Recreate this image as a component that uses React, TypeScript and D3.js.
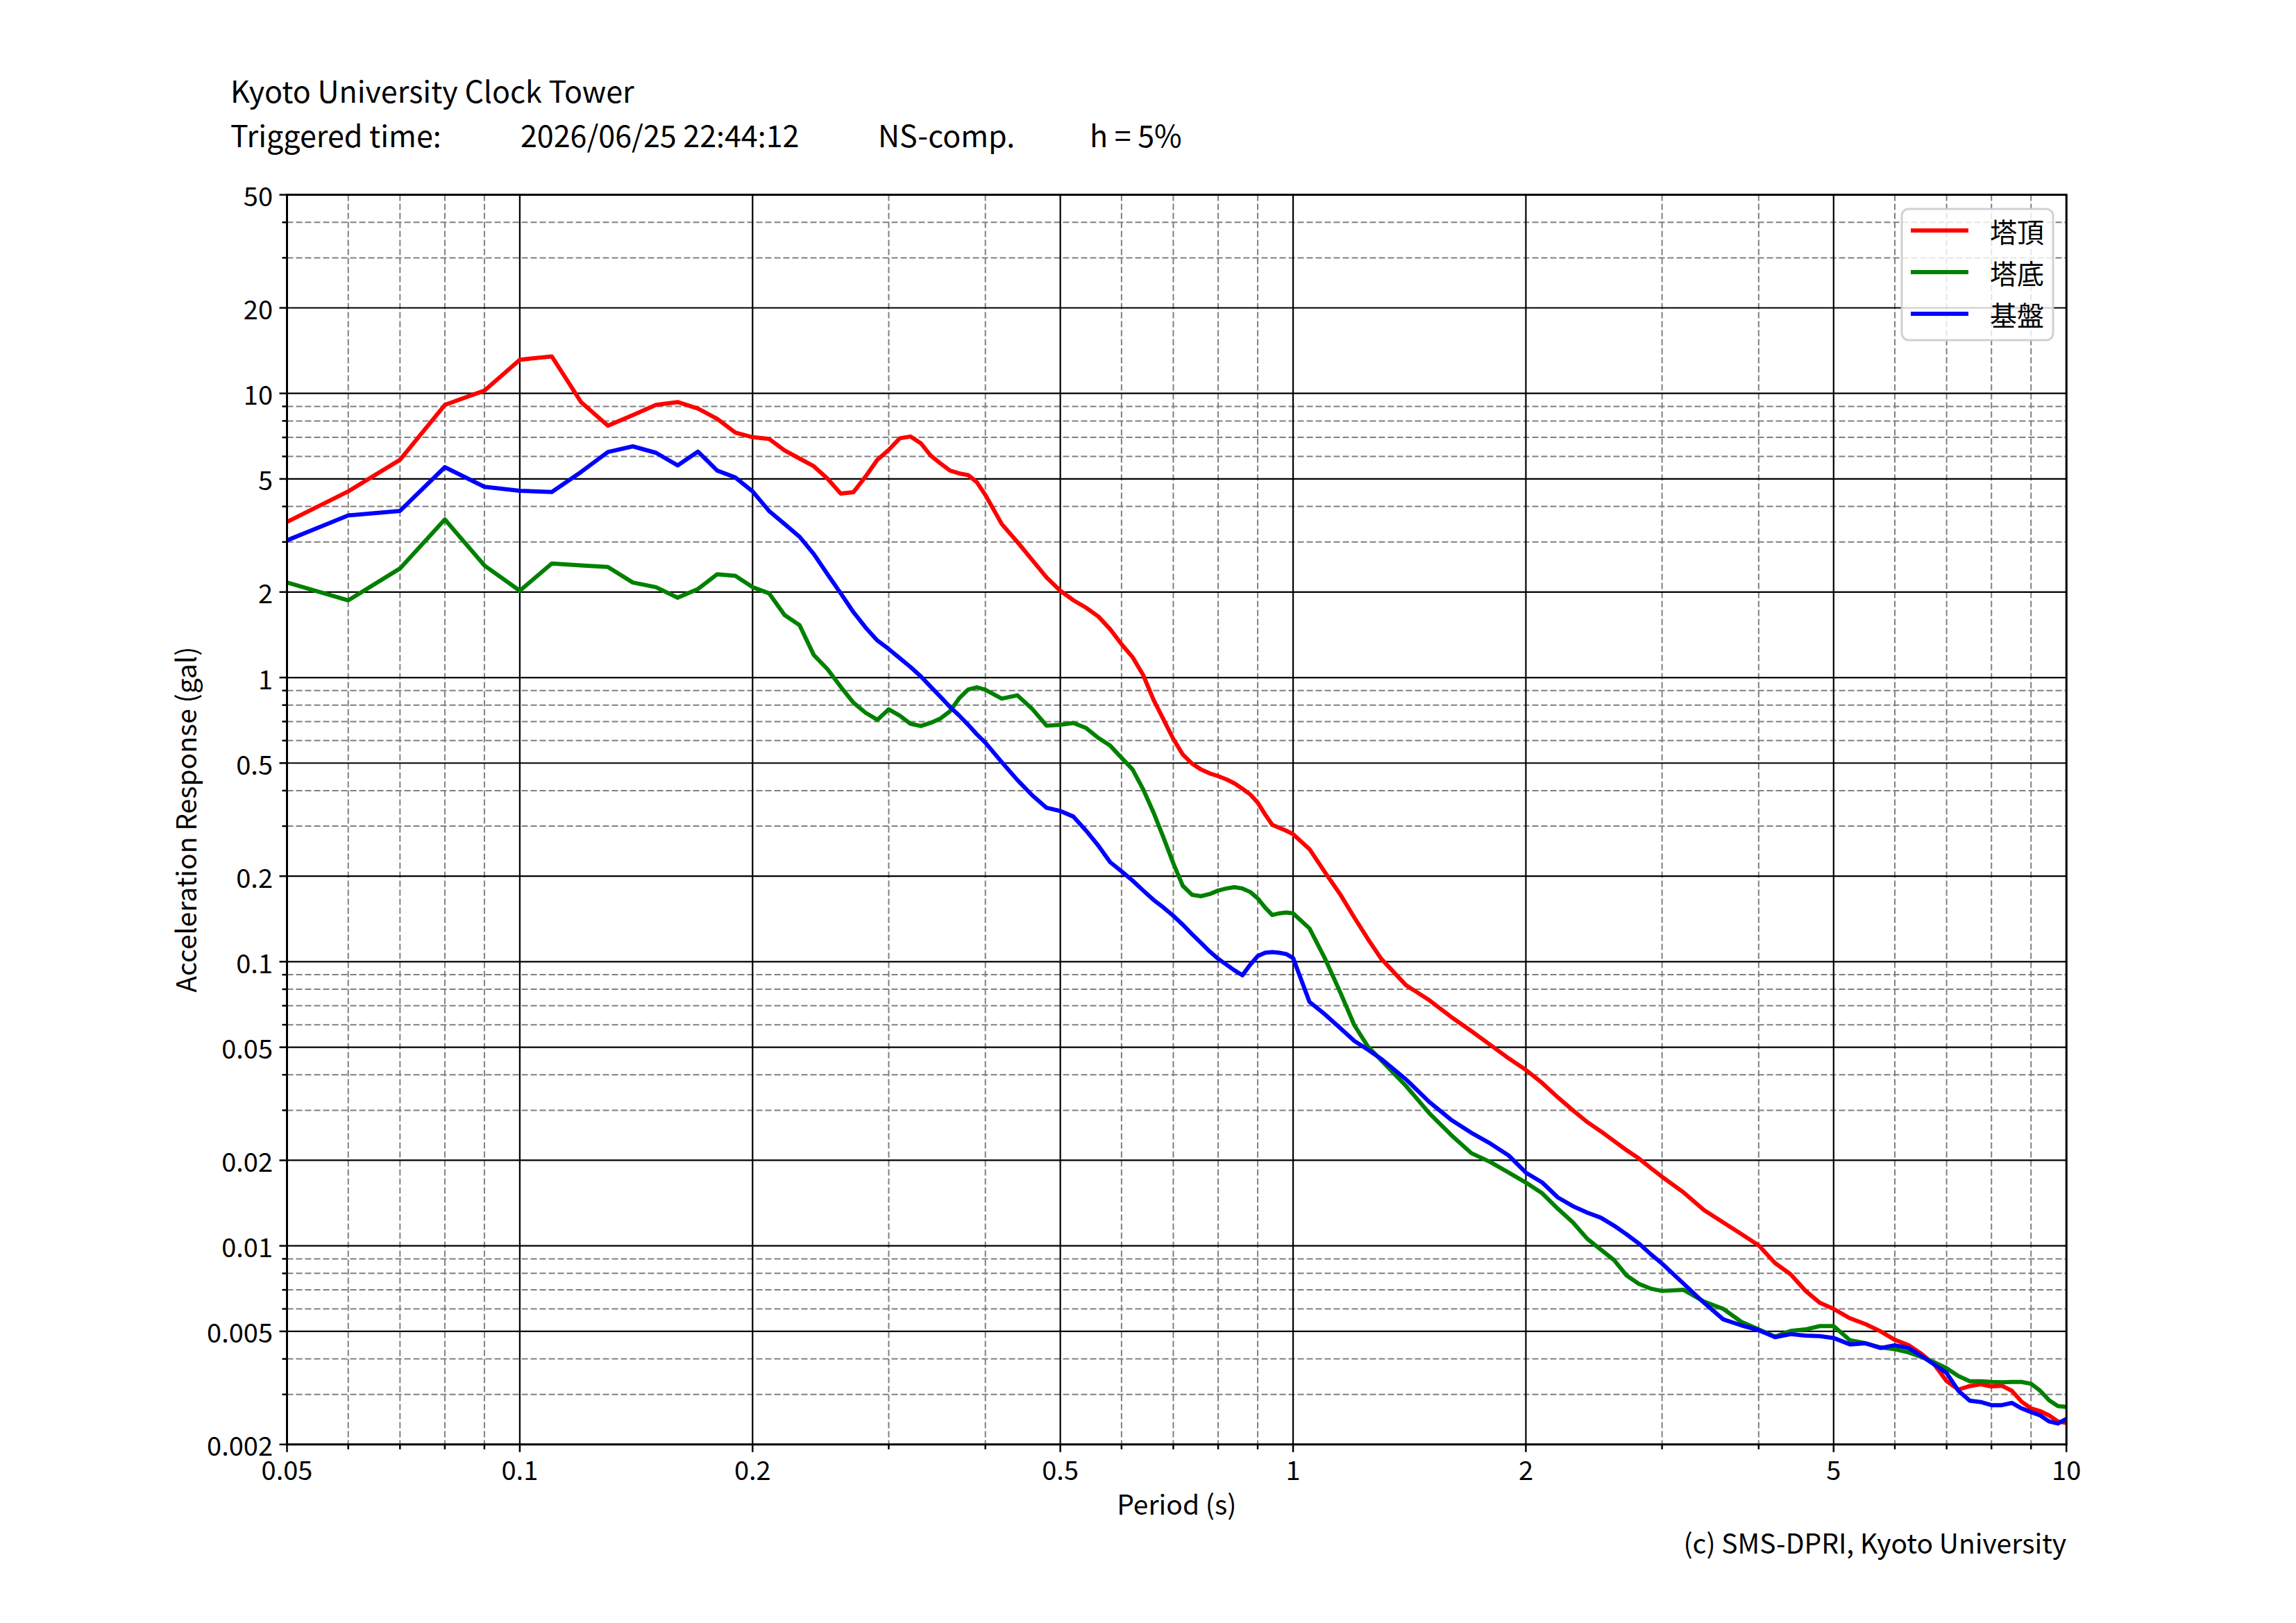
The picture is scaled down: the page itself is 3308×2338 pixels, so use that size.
import React from "react";
import * as d3 from "d3";

const periods = [
  0.05, 0.06, 0.07, 0.08, 0.09, 0.1, 0.11, 0.12, 0.13, 0.14, 0.15, 0.16, 0.17, 0.18, 0.19, 0.2,
  0.21, 0.22, 0.23, 0.24, 0.25, 0.26, 0.27, 0.28, 0.29, 0.3, 0.31, 0.32, 0.33, 0.34, 0.35, 0.36,
  0.37, 0.38, 0.39, 0.4,
  0.42, 0.44, 0.46, 0.48, 0.5, 0.52, 0.54, 0.56, 0.58, 0.6, 0.62, 0.64, 0.66, 0.68, 0.7, 0.72,
  0.74, 0.76, 0.78, 0.8, 0.82, 0.84, 0.86, 0.88, 0.9, 0.92, 0.94, 0.96, 0.98, 1.0,
  1.05, 1.1, 1.15, 1.2, 1.25,
  1.3, 1.4, 1.5, 1.6, 1.7, 1.8, 1.9, 2.0, 2.1, 2.2, 2.3, 2.4, 2.5, 2.6, 2.7, 2.8, 2.9, 3.0,
  3.2, 3.4, 3.6, 3.8, 4.0, 4.2, 4.4, 4.6, 4.8, 5.0,
  5.25, 5.5, 5.75, 6.0, 6.25, 6.5, 6.75, 7.0, 7.25, 7.5, 7.75, 8.0, 8.25, 8.5, 8.75, 9.0, 9.25,
  9.5, 9.75, 10.0,
];

// 塔頂 (tower top)
const towerTop = [
  3.53, 4.52, 5.84, 9.11, 10.23, 13.14, 13.49, 9.32, 7.7, 8.39, 9.11, 9.32, 8.84, 8.14, 7.28, 7.01,
  6.92, 6.3, 5.9, 5.54, 5.01, 4.44, 4.49, 5.1, 5.84, 6.33, 6.95, 7.05, 6.68, 6.04, 5.67, 5.35,
  5.23, 5.16, 4.87, 4.39,
  3.47, 3.0, 2.59, 2.25, 2.02, 1.87, 1.76, 1.64, 1.48, 1.31, 1.18, 1.02, 0.835, 0.711, 0.608, 0.536,
  0.498, 0.475, 0.46, 0.45, 0.438, 0.424, 0.406, 0.388, 0.363, 0.33, 0.303, 0.296, 0.289, 0.281,
  0.249, 0.206, 0.173, 0.143, 0.12,
  0.1024, 0.0826, 0.0732, 0.064, 0.057, 0.0509, 0.0457, 0.0416, 0.0374, 0.0333, 0.03, 0.0273,
  0.0253, 0.0234, 0.0217, 0.0203, 0.0188, 0.0175,
  0.0154, 0.01335, 0.01208, 0.011, 0.01004, 0.0087, 0.00794, 0.00694, 0.0063, 0.006,
  0.00556, 0.0053, 0.005, 0.00467, 0.00447, 0.00416, 0.00382, 0.00334, 0.00312, 0.00321, 0.00326,
  0.0032, 0.00322, 0.00309, 0.00283, 0.00268, 0.00262, 0.00253, 0.00241, 0.00238,
];

// 塔底 (tower base)
const towerBase = [
  2.16, 1.87, 2.42, 3.6, 2.48, 2.02, 2.52, 2.48, 2.45, 2.16, 2.08, 1.91, 2.05, 2.31, 2.28, 2.08,
  1.98, 1.66, 1.53, 1.2, 1.07, 0.928, 0.816, 0.752, 0.71, 0.773, 0.735, 0.688, 0.675, 0.693, 0.718,
  0.761, 0.845, 0.907, 0.924, 0.906,
  0.843, 0.866, 0.775, 0.677, 0.682, 0.692, 0.664, 0.613, 0.576, 0.522, 0.475, 0.404, 0.335, 0.273,
  0.222, 0.185, 0.172, 0.17, 0.173, 0.178, 0.181, 0.183, 0.181, 0.176, 0.167, 0.155, 0.146, 0.148,
  0.149, 0.148,
  0.131, 0.1024, 0.0783, 0.0598, 0.0502,
  0.045, 0.0365, 0.0293, 0.0246, 0.0212, 0.0197, 0.0181, 0.0167, 0.0153, 0.0135, 0.0121, 0.0106,
  0.0097, 0.00891, 0.00786, 0.00735, 0.00707, 0.00694,
  0.007, 0.00636, 0.006, 0.0054, 0.00508, 0.00479, 0.00502, 0.00508, 0.00522, 0.00522,
  0.00465, 0.00454, 0.00439, 0.00433, 0.00422, 0.00406, 0.00389, 0.00371, 0.00348, 0.00334, 0.00334,
  0.00332, 0.00331, 0.00332, 0.00332, 0.00327, 0.00309, 0.00286, 0.00273, 0.00271,
];

// 基盤 (ground)
const ground = [
  3.04, 3.72, 3.86, 5.5, 4.69, 4.54, 4.5, 5.29, 6.22, 6.51, 6.18, 5.58, 6.24, 5.35, 5.06, 4.52,
  3.86, 3.47, 3.13, 2.72, 2.31, 1.98, 1.7, 1.5, 1.35, 1.26, 1.17, 1.09, 1.01, 0.928, 0.855, 0.788,
  0.735, 0.682, 0.631, 0.59,
  0.504, 0.436, 0.385, 0.348, 0.339, 0.324, 0.289, 0.256, 0.224, 0.208, 0.193, 0.178, 0.165, 0.155,
  0.145, 0.135, 0.125, 0.1166, 0.1087, 0.1024, 0.0976, 0.0932, 0.0896, 0.0976, 0.1047, 0.1075,
  0.1081, 0.1075, 0.1064, 0.103,
  0.0722, 0.0652, 0.0585, 0.0526, 0.049,
  0.0455, 0.0385, 0.0321, 0.0278, 0.025, 0.0229, 0.0208, 0.0181, 0.0167, 0.0148, 0.0138, 0.0131,
  0.01256, 0.01178, 0.01097, 0.01019, 0.00935, 0.00866,
  0.00735, 0.0063, 0.00551, 0.00525, 0.00505, 0.00477, 0.00489, 0.00483, 0.00481, 0.00474,
  0.0045, 0.00454, 0.00437, 0.00447, 0.00437, 0.00409, 0.00382, 0.00357, 0.00309, 0.00285, 0.00282,
  0.00275, 0.00275, 0.0028, 0.00268, 0.0026, 0.00253, 0.00241, 0.00237, 0.00246,
];

const seriesNames = ["塔頂", "塔底", "基盤"];
const seriesColors = ["#ff0000", "#008000", "#0000ff"];

const xTicks = [0.05, 0.1, 0.2, 0.5, 1, 2, 5, 10];
const xTickLabels = ["0.05", "0.1", "0.2", "0.5", "1", "2", "5", "10"];
const yTicks = [50, 20, 10, 5, 2, 1, 0.5, 0.2, 0.1, 0.05, 0.02, 0.01, 0.005, 0.002];
const yTickLabels = ["50", "20", "10", "5", "2", "1", "0.5", "0.2", "0.1", "0.05", "0.02", "0.01", "0.005", "0.002"];

const titleLine1 = "Kyoto University Clock Tower";
const titleParts = ["Triggered time:", "2026/06/25 22:44:12", "NS-comp.", "h = 5%"];
const xLabel = "Period (s)";
const yLabel = "Acceleration Response (gal)";
const credit = "(c) SMS-DPRI, Kyoto University";

const W = 3308;
const H = 2338;
const L = 413.5;
const R = 2977.2;
const T = 280.6;
const B = 2080.8;
const FONT = "'Noto Sans CJK JP', 'Noto Sans', sans-serif";

function minorValues(lo: number, hi: number, majors: number[]) {
  const out: number[] = [];
  for (let e = -4; e <= 2; e++) {
    for (let m = 1; m <= 9; m++) {
      const v = +(m * Math.pow(10, e)).toPrecision(6);
      if (v > lo * 1.0001 && v < hi * 0.9999 && !majors.some((t) => Math.abs(t - v) / v < 1e-6)) out.push(v);
    }
  }
  return out;
}

export default function App() {
  const x = d3.scaleLog().domain([0.05, 10]).range([L, R]);
  const y = d3.scaleLog().domain([0.002, 50]).range([B, T]);
  const xMinor = minorValues(0.05, 10, xTicks);
  const yMinor = minorValues(0.002, 50, yTicks);
  const series = [towerTop, towerBase, ground];
  const line = d3
    .line<number>()
    .x((_, i) => x(periods[i]))
    .y((d) => y(d));

  const legX = 2740;
  const legY = 301;
  const legW = 218;
  const legH = 189;

  const titleX = [332, 750, 1265, 1570];

  return (
    <svg
      width={W}
      height={H}
      style={{ position: "absolute", left: 0, top: 0, background: "#fff" }}
      fontFamily={FONT}
    >
      <rect x={0} y={0} width={W} height={H} fill="#fff" />
      <defs>
        <clipPath id="plotclip">
          <rect x={L} y={T} width={R - L} height={B - T} />
        </clipPath>
      </defs>

      {/* minor grid */}
      <g stroke="#808080" strokeWidth={2} strokeDasharray="9 4" fill="none">
        {xMinor.map((v) => (
          <line key={"xm" + v} x1={x(v)} x2={x(v)} y1={T} y2={B} />
        ))}
        {yMinor.map((v) => (
          <line key={"ym" + v} x1={L} x2={R} y1={y(v)} y2={y(v)} />
        ))}
      </g>
      {/* major grid */}
      <g stroke="#000" strokeWidth={2.2} fill="none">
        {xTicks.map((v) => (
          <line key={"xg" + v} x1={x(v)} x2={x(v)} y1={T} y2={B} />
        ))}
        {yTicks.map((v) => (
          <line key={"yg" + v} x1={L} x2={R} y1={y(v)} y2={y(v)} />
        ))}
      </g>

      {/* data lines */}
      <g clipPath="url(#plotclip)" fill="none" strokeWidth={6} strokeLinejoin="round">
        {series.map((s, i) => (
          <path key={seriesNames[i]} d={line(s) || ""} stroke={seriesColors[i]} />
        ))}
      </g>

      {/* spines */}
      <rect x={L} y={T} width={R - L} height={B - T} fill="none" stroke="#000" strokeWidth={3} />

      {/* ticks */}
      <g stroke="#000" strokeWidth={2.5}>
        {xTicks.map((v) => (
          <line key={"xt" + v} x1={x(v)} x2={x(v)} y1={B} y2={B + 11} />
        ))}
        {xMinor.map((v) => (
          <line key={"xmt" + v} x1={x(v)} x2={x(v)} y1={B} y2={B + 7} />
        ))}
        {yTicks.map((v) => (
          <line key={"yt" + v} x1={L - 11} x2={L} y1={y(v)} y2={y(v)} />
        ))}
        {yMinor.map((v) => (
          <line key={"ymt" + v} x1={L - 7} x2={L} y1={y(v)} y2={y(v)} />
        ))}
      </g>

      {/* tick labels */}
      <g fontSize={38} fill="#000">
        {xTicks.map((v, i) => (
          <text key={"xl" + v} x={x(v)} y={2132} textAnchor="middle">
            {xTickLabels[i]}
          </text>
        ))}
        {yTicks.map((v, i) => (
          <text key={"yl" + v} x={393} y={y(v)} textAnchor="end" dominantBaseline="central">
            {yTickLabels[i]}
          </text>
        ))}
      </g>

      {/* axis labels */}
      <text x={(L + R) / 2} y={2182} fontSize={39} textAnchor="middle">
        {xLabel}
      </text>
      <text
        transform={`translate(283, ${(T + B) / 2}) rotate(-90)`}
        fontSize={39}
        textAnchor="middle"
      >
        {yLabel}
      </text>

      {/* title */}
      <text x={titleX[0]} y={148} fontSize={43}>
        {titleLine1}
      </text>
      {titleParts.map((t, i) => (
        <text key={t} x={titleX[i]} y={212} fontSize={43}>
          {t}
        </text>
      ))}

      {/* credit */}
      <text x={R} y={2238} fontSize={39} textAnchor="end">
        {credit}
      </text>

      {/* legend */}
      <g>
        <rect
          x={legX}
          y={legY}
          width={legW}
          height={legH}
          rx={10}
          ry={10}
          fill="#fff"
          fillOpacity={0.8}
          stroke="#cccccc"
          strokeOpacity={0.9}
          strokeWidth={3}
        />
        {seriesNames.map((n, i) => {
          const ly = 332 + i * 60;
          return (
            <g key={n}>
              <line x1={2753} x2={2836} y1={ly} y2={ly} stroke={seriesColors[i]} strokeWidth={6} />
              <text x={2867} y={ly} fontSize={39} dominantBaseline="central">
                {n}
              </text>
            </g>
          );
        })}
      </g>
    </svg>
  );
}
